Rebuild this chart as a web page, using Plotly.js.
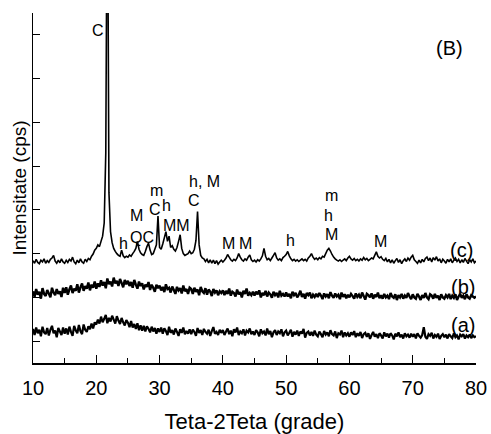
<!DOCTYPE html>
<html>
<head>
<meta charset="utf-8">
<script src="https://cdn.plot.ly/plotly-3.0.1.min.js"></script>
<style>html,body{margin:0;padding:0;background:#fff}#chart{width:491px;height:434px}</style>
</head>
<body>
<div id="chart"></div>
<script>
// 2-theta sampling (degrees)
var startAngle = 10;
var stepAngle = 0.25;

// (a) sample
var seriesA = [
0.78,0.64,0.81,0.68,0.76,0.61,0.83,0.70,0.66,0.80,0.63,0.76,0.85,0.68,0.74,0.59,0.80,0.72,0.64,0.81,
0.67,0.79,0.65,0.83,0.71,0.62,0.85,0.75,0.68,0.87,0.73,0.66,0.88,0.76,0.71,0.84,0.77,0.90,0.79,0.93,
0.88,0.99,0.90,1.06,0.93,1.01,1.10,0.91,1.03,0.95,1.08,0.99,0.90,1.07,0.97,0.89,1.03,0.93,0.86,0.98,
0.92,0.82,0.96,0.81,0.89,0.78,0.91,0.75,0.86,0.74,0.85,0.72,0.84,0.78,0.70,0.83,0.72,0.80,0.67,0.79,
0.71,0.81,0.67,0.79,0.73,0.64,0.83,0.69,0.75,0.65,0.79,0.71,0.62,0.77,0.69,0.81,0.66,0.73,0.67,0.77,
0.66,0.76,0.71,0.62,0.80,0.69,0.75,0.64,0.78,0.71,0.67,0.76,0.62,0.73,0.82,0.67,0.71,0.64,0.76,0.69,
0.75,0.64,0.72,0.79,0.66,0.74,0.61,0.77,0.70,0.81,0.64,0.72,0.68,0.77,0.63,0.74,0.70,0.79,0.66,0.72,
0.64,0.75,0.70,0.61,0.77,0.68,0.72,0.63,0.79,0.66,0.73,0.59,0.70,0.75,0.64,0.72,0.68,0.77,0.61,0.70,
0.74,0.63,0.69,0.76,0.60,0.71,0.65,0.74,0.62,0.72,0.67,0.78,0.58,0.69,0.72,0.63,0.71,0.62,0.74,0.65,
0.61,0.72,0.66,0.59,0.73,0.65,0.70,0.61,0.75,0.66,0.63,0.72,0.57,0.68,0.65,0.74,0.59,0.70,0.63,0.68,
0.60,0.70,0.64,0.73,0.59,0.68,0.62,0.71,0.57,0.66,0.69,0.60,0.68,0.55,0.64,0.71,0.60,0.66,0.57,0.68,
0.63,0.56,0.70,0.61,0.67,0.58,0.68,0.63,0.54,0.67,0.61,0.70,0.59,0.65,0.56,0.68,0.61,0.65,0.58,0.67,
0.60,0.66,0.56,0.68,0.62,0.58,0.64,0.82,0.60,0.55,0.66,0.62,0.69,0.56,0.64,0.60,0.67,0.55,0.62,0.66,
0.59,0.65,0.56,0.66,0.61,0.57,0.68,0.59,0.63,0.54,0.65,0.61,0.66,0.56,0.63,0.59,0.65,0.57,0.63,0.59,
0.61
];

// (b) sample
var seriesB = [
1.64,1.51,1.69,1.56,1.63,1.47,1.71,1.58,1.53,1.67,1.59,1.50,1.72,1.61,1.55,1.69,1.58,1.64,1.51,1.72,
1.60,1.73,1.56,1.68,1.77,1.60,1.70,1.65,1.80,1.61,1.73,1.82,1.65,1.76,1.70,1.84,1.66,1.79,1.72,1.86,
1.70,1.82,1.74,1.89,1.77,1.85,1.71,1.93,1.80,1.86,1.75,1.95,1.82,1.88,1.76,1.92,1.83,1.73,1.90,1.80,
1.88,1.76,1.85,1.72,1.90,1.79,1.70,1.86,1.76,1.82,1.68,1.79,1.74,1.85,1.67,1.79,1.72,1.63,1.79,1.71,
1.77,1.66,1.74,1.62,1.80,1.69,1.72,1.61,1.75,1.67,1.58,1.74,1.66,1.71,1.59,1.77,1.64,1.69,1.58,1.72,
1.69,1.58,1.72,1.63,1.68,1.55,1.74,1.64,1.60,1.71,1.56,1.68,1.63,1.53,1.69,1.61,1.66,1.55,1.64,1.60,
1.66,1.55,1.65,1.58,1.70,1.54,1.63,1.60,1.52,1.68,1.57,1.62,1.50,1.65,1.58,1.70,1.54,1.60,1.55,1.63,
1.54,1.63,1.57,1.66,1.50,1.60,1.55,1.65,1.52,1.61,1.57,1.49,1.63,1.55,1.60,1.50,1.65,1.54,1.58,1.52,
1.61,1.52,1.58,1.48,1.63,1.55,1.60,1.50,1.56,1.65,1.51,1.58,1.47,1.60,1.55,1.61,1.48,1.56,1.51,1.58,
1.51,1.60,1.54,1.46,1.59,1.52,1.57,1.48,1.62,1.54,1.49,1.59,1.52,1.56,1.46,1.61,1.51,1.57,1.48,1.56,
1.50,1.58,1.53,1.47,1.59,1.51,1.56,1.48,1.61,1.53,1.45,1.58,1.55,1.50,1.59,1.47,1.56,1.51,1.61,1.48,
1.55,1.47,1.58,1.50,1.54,1.46,1.60,1.52,1.49,1.57,1.44,1.55,1.50,1.58,1.47,1.54,1.49,1.60,1.52,1.46,
1.57,1.50,1.47,1.58,1.52,1.44,1.55,1.49,1.60,1.50,1.46,1.57,1.54,1.47,1.58,1.49,1.54,1.44,1.57,1.50,
1.47,1.55,1.50,1.58,1.46,1.54,1.49,1.57,1.44,1.52,1.58,1.49,1.54,1.46,1.57,1.50,1.47,1.55,1.52,1.49,
1.52
];

// (c) sample
var seriesC = [
2.34,2.28,2.37,2.30,2.27,2.35,2.31,2.38,2.28,2.34,2.30,2.37,2.40,2.46,2.33,2.28,2.35,2.29,2.38,2.31,
2.28,2.35,2.30,2.37,2.33,2.42,2.31,2.27,2.35,2.29,2.38,2.31,2.28,2.37,2.32,2.39,2.36,2.44,2.49,2.58,
2.62,2.70,2.66,2.78,2.90,3.20,4.80,12.0,3.90,3.00,2.75,2.62,2.55,2.50,2.46,2.44,2.58,2.45,2.41,2.44,
2.42,2.47,2.44,2.50,2.55,2.62,2.78,2.60,2.52,2.48,2.46,2.55,2.66,2.74,2.58,2.48,2.50,2.60,2.70,3.36,
2.64,2.60,2.72,2.86,3.00,2.78,2.90,2.64,2.68,2.60,2.56,2.64,2.78,2.93,2.62,2.50,2.46,2.48,2.50,2.56,
2.50,2.52,2.60,2.80,3.46,2.70,2.46,2.40,2.38,2.32,2.37,2.29,2.36,2.28,2.35,2.27,2.34,2.26,2.31,2.35,
2.31,2.35,2.40,2.48,2.42,2.36,2.33,2.37,2.34,2.40,2.50,2.42,2.36,2.33,2.38,2.35,2.42,2.47,2.36,2.32,
2.35,2.31,2.36,2.33,2.38,2.45,2.62,2.44,2.36,2.39,2.34,2.40,2.46,2.52,2.40,2.35,2.38,2.34,2.41,2.44,
2.48,2.55,2.45,2.38,2.34,2.37,2.33,2.36,2.32,2.35,2.38,2.34,2.37,2.33,2.40,2.44,2.50,2.42,2.37,2.40,
2.36,2.41,2.38,2.44,2.42,2.50,2.58,2.62,2.56,2.48,2.42,2.38,2.35,2.33,2.36,2.32,2.35,2.38,2.34,2.40,
2.44,2.38,2.35,2.39,2.34,2.37,2.33,2.38,2.35,2.41,2.36,2.39,2.34,2.37,2.40,2.38,2.46,2.54,2.44,2.40,
2.43,2.37,2.34,2.39,2.31,2.37,2.29,2.36,2.28,2.34,2.39,2.30,2.36,2.27,2.34,2.38,2.32,2.40,2.35,2.42,
2.46,2.36,2.32,2.28,2.35,2.29,2.37,2.31,2.39,2.42,2.34,2.40,2.31,2.41,2.35,2.43,2.33,2.38,2.29,2.37,
2.33,2.28,2.37,2.31,2.38,2.29,2.35,2.40,2.32,2.37,2.29,2.36,2.30,2.39,2.33,2.27,2.36,2.31,2.38,2.29,
2.33
];

// peak labels
var peakText = ["C","m","C","h","h, M","C","M","QC","h","MM","M","M","h","m","h","M","M"];
var peakX    = [20.27,29.53,29.31,31.12,37.03,35.5,26.36,27.28,24.35,32.7,40.89,43.53,50.67,57.12,56.74,57.12,64.83];
var peakY    = [7.59,3.94,3.50,3.61,4.16,3.71,3.38,2.87,2.74,3.15,2.74,2.74,2.81,3.82,3.38,2.93,2.77];

// curve labels
var curveText = ["(c)","(b)","(a)","(B)"];
var curveX = [77.73,77.89,77.89,75.88];
var curveY = [2.58,1.73,0.87,7.19];

var xTicks = [10,20,30,40,50,60,70,80];

var FONT = '"Liberation Sans", Arial, sans-serif';

function tr(y, w){
  return {y:y, x0:startAngle, dx:stepAngle, type:'scatter', mode:'lines',
          line:{color:'#000', width:w, simplify:false}, hoverinfo:'skip', showlegend:false};
}
var data = [tr(seriesA, 2.2), tr(seriesB, 2.4), tr(seriesC, 1.6)];

var ann = [];
for (var i=0;i<peakText.length;i++){
  ann.push({x:peakX[i], y:peakY[i], xref:'x', yref:'y', text:peakText[i], showarrow:false,
    xanchor:'center', yanchor:'middle', font:{family:FONT, size:16, color:'#000'}});
}
for (var j=0;j<curveText.length;j++){
  ann.push({x:curveX[j], y:curveY[j], xref:'x', yref:'y', text:curveText[j], showarrow:false,
    xanchor:'center', yanchor:'middle', font:{family:FONT, size:20, color:'#000'}});
}

var layout = {
  width:491, height:434,
  margin:{l:33, r:15, t:13, b:71},
  paper_bgcolor:'#fff', plot_bgcolor:'#fff',
  font:{family:FONT, color:'#000'},
  showlegend:false,
  xaxis:{range:[10,80], tickvals:xTicks, ticktext:xTicks.map(String), ticks:'inside', ticklen:8, tickwidth:1.2,
    tickcolor:'#000', showline:true, linecolor:'#000', linewidth:1.5, showgrid:false, zeroline:false,
    ticklabelstandoff:6,
    tickfont:{family:FONT, size:20, color:'#000'},
    minor:{dtick:5, tick0:5, ticks:'inside', ticklen:5, tickwidth:1, tickcolor:'#000', showgrid:false},
    title:{text:'Teta-2Teta (grade)', font:{family:FONT, size:22, color:'#000'}, standoff:19}},
  yaxis:{range:[0,8], tick0:0.5, dtick:1, ticks:'inside', ticklen:7, tickwidth:1.2, tickcolor:'#000',
    showticklabels:false, showline:true, linecolor:'#000', linewidth:1.5, showgrid:false, zeroline:false,
    title:{text:'Intensitate (cps)', font:{family:FONT, size:19, color:'#000'}, standoff:0}},
  xaxis2:{overlaying:'x', side:'top', matches:'x', range:[10,80], dtick:5, tick0:0, ticks:'inside', ticklen:3,
    tickcolor:'#000', showticklabels:false, showline:true, linecolor:'#000', linewidth:1.5, showgrid:false, zeroline:false, anchor:'y'},
  yaxis2:{overlaying:'y', side:'right', range:[0,8], dtick:0.5, tick0:0, ticks:'outside', ticklen:3,
    tickcolor:'#000', showticklabels:false, showline:true, linecolor:'#000', linewidth:1.5, showgrid:false, zeroline:false, anchor:'x'},
  annotations:ann
};

Plotly.newPlot('chart', data, layout, {staticPlot:true, displayModeBar:false});
</script>
</body>
</html>
